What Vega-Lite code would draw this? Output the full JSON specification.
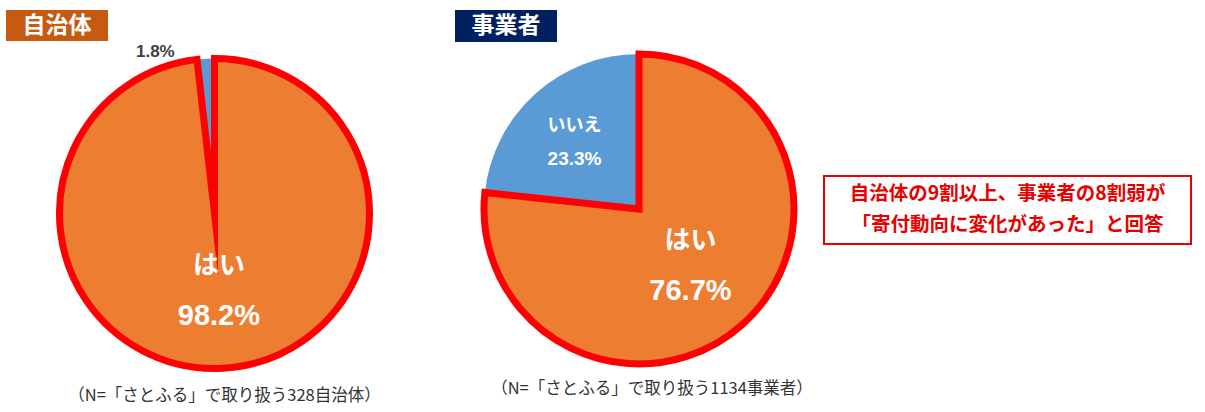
{
  "$schema": "https://vega.github.io/schema/vega-lite/v6.json",
  "padding": {"left": 6, "top": 10, "right": 0, "bottom": 0},
  "background": "white",
  "datasets": {
    "jichitai": [
      {"ans": "はい", "value": 0.982, "ord": 1},
      {"ans": "いいえ", "value": 0.018, "ord": 2}
    ],
    "jigyosha": [
      {"ans": "はい", "value": 0.767, "ord": 1},
      {"ans": "いいえ", "value": 0.233, "ord": 2}
    ],
    "badgeA": [{"name": "自治体"}],
    "badgeB": [{"name": "事業者"}],
    "spacer": [{"name": ""}],
    "note": [{"msg": ["自治体の9割以上、事業者の8割弱が", "「寄付動向に変化があった」と回答"]}]
  },
  "config": {
    "view": {"stroke": null},
    "font": "Noto Sans CJK JP",
    "title": {"font": "Noto Sans CJK JP", "fontWeight": "normal", "fontSize": 16.5, "color": "#333333"}
  },
  "hconcat": [
    {
      "vconcat": [
        {
          "width": 102, "height": 31,
          "view": {"fill": "#C55A11", "stroke": null},
          "data": {"name": "badgeA"},
          "mark": {"type": "text", "fontSize": 23, "fontWeight": "bold", "color": "white", "font": "Noto Sans CJK JP", "baseline": "middle"},
          "encoding": {"text": {"field": "name"}}
        },
        {
          "width": 417, "height": 333,
          "data": {"name": "jichitai"},
          "title": {"text": "（N=「さとふる」で取り扱う328自治体）", "orient": "bottom", "offset": 5, "dx": 10},
          "encoding": {
            "theta": {"field": "value", "type": "quantitative", "stack": true},
            "order": {"field": "ord", "type": "quantitative"}
          },
          "layer": [
            {
              "mark": {"type": "arc", "outerRadius": 155, "clip": true},
              "encoding": {
                "color": {"field": "ans", "type": "nominal", "scale": {"domain": ["はい", "いいえ"], "range": ["#ED7D31", "#5B9BD5"]}, "legend": null}
              }
            },
            {
              "mark": {"type": "arc", "outerRadius": 155, "clip": true, "fillOpacity": 0, "strokeWidth": 7, "strokeJoin": "miter", "strokeMiterLimit": 20},
              "encoding": {
                "stroke": {"condition": {"test": "datum.ans === 'はい'", "value": "#FF0000"}, "value": "transparent"}
              }
            },
            {
              "mark": {"type": "text", "radius": 78, "dy": -25, "fontSize": 26, "fontWeight": "bold", "color": "white", "font": "Noto Sans CJK JP"},
              "encoding": {
                "detail": {"field": "ans"},
                "text": {"condition": {"test": "datum.ans === 'はい'", "field": "ans"}, "value": ""}
              }
            },
            {
              "mark": {"type": "text", "radius": 78, "dy": 25, "fontSize": 29, "fontWeight": "bold", "color": "white", "font": "Liberation Sans"},
              "encoding": {
                "detail": {"field": "ans"},
                "text": {"condition": {"test": "datum.ans === 'はい'", "field": "value", "format": ".1%"}, "value": ""}
              }
            },
            {
              "mark": {"type": "text", "radius": 162, "dx": -50, "fontSize": 17, "fontWeight": "bold", "color": "#404040", "font": "Liberation Sans"},
              "encoding": {
                "detail": {"field": "ans"},
                "text": {"condition": {"test": "datum.ans === 'いいえ'", "field": "value", "format": ".1%"}, "value": ""}
              }
            }
          ]
        }
      ],
      "spacing": 1
    },
    {
      "hconcat": [
        {
          "vconcat": [
            {
              "width": 102, "height": 32,
              "view": {"fill": "#002060", "stroke": null},
              "data": {"name": "badgeB"},
              "mark": {"type": "text", "fontSize": 23, "fontWeight": "bold", "color": "white", "font": "Noto Sans CJK JP", "baseline": "middle"},
              "encoding": {"text": {"field": "name"}}
            },
            {
              "width": 368, "height": 324,
              "data": {"name": "jigyosha"},
              "title": {"text": "（N=「さとふる」で取り扱う1134事業者）", "orient": "bottom", "offset": 10, "dx": 13},
              "encoding": {
                "theta": {"field": "value", "type": "quantitative", "stack": true},
                "order": {"field": "ord", "type": "quantitative"}
              },
              "layer": [
                {
                  "mark": {"type": "arc", "outerRadius": 155, "clip": true},
                  "encoding": {
                    "color": {"field": "ans", "type": "nominal", "scale": {"domain": ["はい", "いいえ"], "range": ["#ED7D31", "#5B9BD5"]}, "legend": null}
                  }
                },
                {
                  "mark": {"type": "arc", "outerRadius": 155, "clip": true, "fillOpacity": 0, "strokeWidth": 7, "strokeJoin": "miter", "strokeMiterLimit": 20},
                  "encoding": {
                    "stroke": {"condition": {"test": "datum.ans === 'はい'", "value": "#FF0000"}, "value": "transparent"}
                  }
                },
                {
                  "mark": {"type": "text", "radius": 77, "dy": -25, "fontSize": 26, "fontWeight": "bold", "color": "white", "font": "Noto Sans CJK JP"},
                  "encoding": {
                    "detail": {"field": "ans"},
                    "text": {"condition": {"test": "datum.ans === 'はい'", "field": "ans"}, "value": ""}
                  }
                },
                {
                  "mark": {"type": "text", "radius": 77, "dy": 25, "fontSize": 29, "fontWeight": "bold", "color": "white", "font": "Liberation Sans"},
                  "encoding": {
                    "detail": {"field": "ans"},
                    "text": {"condition": {"test": "datum.ans === 'はい'", "field": "value", "format": ".1%"}, "value": ""}
                  }
                },
                {
                  "mark": {"type": "text", "radius": 89, "dx": -5, "dy": -17, "fontSize": 18, "fontWeight": "bold", "color": "white", "font": "Noto Sans CJK JP"},
                  "encoding": {
                    "detail": {"field": "ans"},
                    "text": {"condition": {"test": "datum.ans === 'いいえ'", "field": "ans"}, "value": ""}
                  }
                },
                {
                  "mark": {"type": "text", "radius": 89, "dx": -5, "dy": 16, "fontSize": 19, "fontWeight": "bold", "color": "white", "font": "Liberation Sans"},
                  "encoding": {
                    "detail": {"field": "ans"},
                    "text": {"condition": {"test": "datum.ans === 'いいえ'", "field": "value", "format": ".1%"}, "value": ""}
                  }
                }
              ]
            }
          ],
          "spacing": 5
        },
        {
          "vconcat": [
            {
              "width": 367, "height": 150,
              "data": {"name": "spacer"},
              "mark": {"type": "text"},
              "encoding": {"text": {"field": "name"}}
            },
            {
              "width": 367, "height": 68,
              "view": {"fill": "white", "stroke": "#E60000", "strokeWidth": 2},
              "data": {"name": "note"},
              "mark": {"type": "text", "fontSize": 19.5, "fontWeight": "bold", "color": "#E60000", "font": "Noto Sans CJK JP", "baseline": "middle", "lineHeight": 31, "dy": -16},
              "encoding": {"text": {"field": "msg"}}
            }
          ],
          "spacing": 15
        }
      ],
      "spacing": 0
    }
  ],
  "spacing": 32
}
